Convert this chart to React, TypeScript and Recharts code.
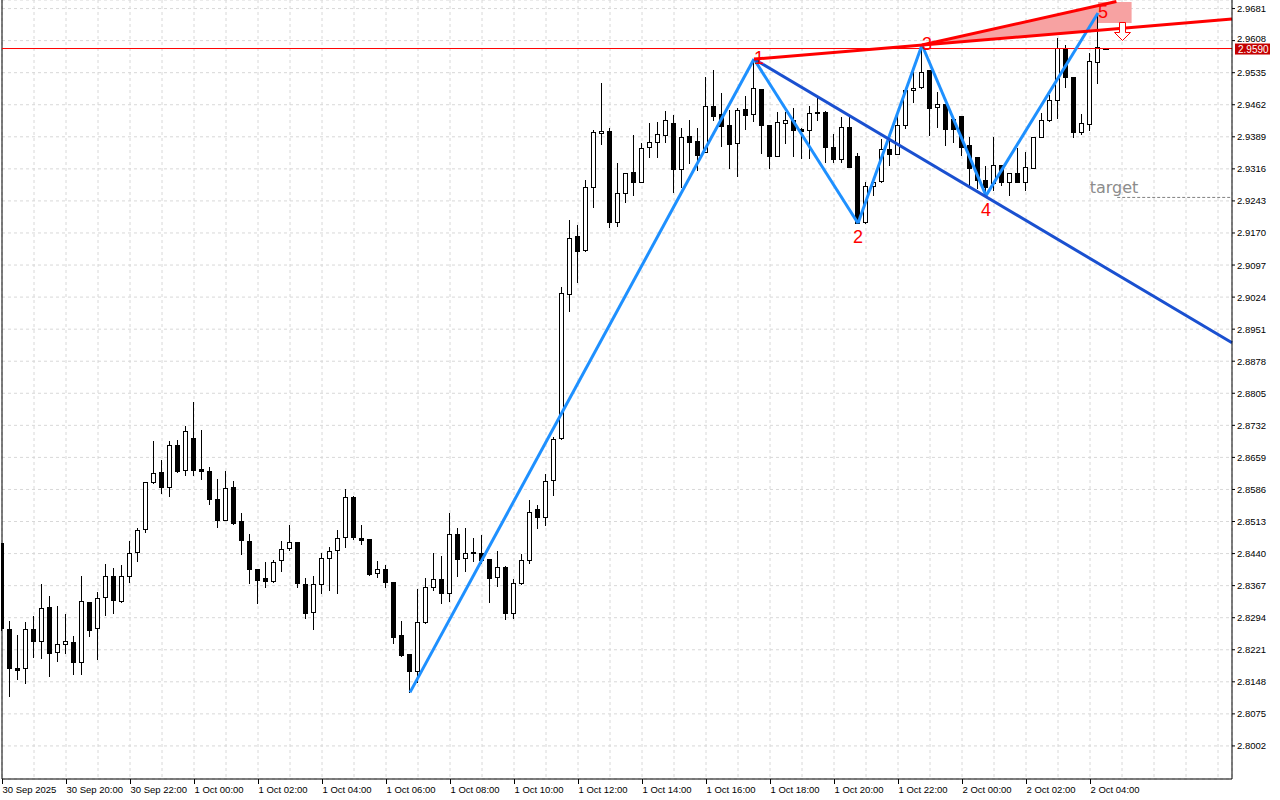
import {
  ComposedChart,
  Bar,
  Area,
  XAxis,
  YAxis,
  CartesianGrid,
  ReferenceLine,
  ReferenceArea,
  ReferenceDot,
} from "recharts"

// 15 minute bars, bar 0 = 30 Sep 18:00
const opens = [
  2.8464, 2.8268, 2.8179, 2.8179, 2.8268, 2.824, 2.8318, 2.8215, 2.8233, 2.8238,
  2.8192, 2.8329, 2.827, 2.834, 2.8388, 2.8333, 2.8388, 2.8443, 2.8495, 2.8602,
  2.8625, 2.8592, 2.8687, 2.863, 2.8703, 2.8632, 2.8628, 2.8564, 2.8516, 2.8592,
  2.8514, 2.8468, 2.8404, 2.8384, 2.8377, 2.8425, 2.8452, 2.8466, 2.837, 2.8306,
  2.837, 2.8429, 2.8448, 2.8477, 2.8568, 2.8475, 2.8473, 2.8395, 2.8406, 2.8375,
  2.8254, 2.8211, 2.8173, 2.8284, 2.8365, 2.8382, 2.835, 2.8484, 2.8429, 2.8443,
  2.8441, 2.8428, 2.8386, 2.8409, 2.8305, 2.8372, 2.8425, 2.8542, 2.8523, 2.8607,
  2.8703, 2.903, 2.9163, 2.9131, 2.9275, 2.9397, 2.9402, 2.9196, 2.926, 2.9309,
  2.9287, 2.9365, 2.9378, 2.9392, 2.942, 2.9315, 2.9391, 2.9379, 2.9354, 2.9459,
  2.944, 2.9416, 2.9374, 2.9452, 2.944, 2.9497, 2.9415, 2.9346, 2.942, 2.9427,
  2.9406, 2.9404, 2.9446, 2.9446, 2.9365, 2.9338, 2.9411, 2.9345, 2.9196, 2.9278,
  2.9288, 2.9361, 2.9349, 2.9415, 2.9496, 2.9502, 2.954, 2.9456, 2.9463, 2.943,
  2.9436, 2.937, 2.9344, 2.9291, 2.9284, 2.9325, 2.9287, 2.9306, 2.9287, 2.9317,
  2.9388, 2.9427, 2.9473, 2.9591, 2.9526, 2.9401, 2.9418, 2.9559, 2.959,
]
const highs = [
  2.8464, 2.8287, 2.8255, 2.8284, 2.8298, 2.8371, 2.8343, 2.8321, 2.8302, 2.8252,
  2.8389, 2.833, 2.8353, 2.8416, 2.8407, 2.8413, 2.8468, 2.8498, 2.8603, 2.8696,
  2.8653, 2.8696, 2.8699, 2.8731, 2.8785, 2.8721, 2.8636, 2.861, 2.8629, 2.8605,
  2.8532, 2.8485, 2.8404, 2.8421, 2.8425, 2.8469, 2.8505, 2.8466, 2.8384, 2.8389,
  2.8441, 2.8456, 2.8494, 2.8588, 2.8572, 2.8504, 2.8474, 2.8423, 2.8414, 2.8375,
  2.8287, 2.8211, 2.836, 2.8384, 2.8441, 2.8435, 2.8532, 2.8499, 2.8498, 2.8475,
  2.8482, 2.8428, 2.8446, 2.8412, 2.8382, 2.844, 2.8562, 2.8551, 2.8621, 2.8706,
  2.9048, 2.92, 2.9188, 2.9291, 2.9405, 2.9512, 2.9408, 2.9329, 2.9307, 2.9393,
  2.9374, 2.9421, 2.9423, 2.9448, 2.9439, 2.9408, 2.9427, 2.9408, 2.9526, 2.9541,
  2.9488, 2.945, 2.9455, 2.9482, 2.9566, 2.9498, 2.9416, 2.9446, 2.9446, 2.9454,
  2.9408, 2.9459, 2.948, 2.9447, 2.9395, 2.9433, 2.9435, 2.9351, 2.9287, 2.9291,
  2.9383, 2.9386, 2.9439, 2.9496, 2.9537, 2.9598, 2.9541, 2.9492, 2.9464, 2.9435,
  2.9436, 2.9389, 2.9344, 2.9323, 2.9389, 2.9325, 2.9306, 2.9363, 2.9355, 2.9388,
  2.9443, 2.9484, 2.9613, 2.9598, 2.9526, 2.944, 2.9579, 2.9671, 2.9591,
]
const lows = [
  2.8266, 2.8116, 2.8154, 2.8145, 2.8205, 2.8203, 2.8162, 2.8196, 2.8214, 2.8165,
  2.8165, 2.8253, 2.8199, 2.8299, 2.8304, 2.833, 2.8375, 2.8422, 2.8488, 2.86,
  2.8579, 2.8572, 2.8626, 2.862, 2.862, 2.8609, 2.8554, 2.8501, 2.8516, 2.8507,
  2.844, 2.8372, 2.8327, 2.8363, 2.8375, 2.8401, 2.8449, 2.8365, 2.8293, 2.8268,
  2.835, 2.8356, 2.835, 2.8456, 2.8473, 2.8461, 2.8391, 2.8387, 2.8365, 2.8236,
  2.8207, 2.8124, 2.8147, 2.8281, 2.8357, 2.8328, 2.8333, 2.839, 2.8401, 2.8422,
  2.8418, 2.833, 2.8367, 2.8292, 2.8294, 2.837, 2.8418, 2.8499, 2.8504, 2.8574,
  2.8701, 2.8993, 2.9059, 2.913, 2.923, 2.9372, 2.9184, 2.9187, 2.9241, 2.9257,
  2.9285, 2.9342, 2.9344, 2.9378, 2.9264, 2.9275, 2.9329, 2.9313, 2.9354, 2.9427,
  2.9369, 2.9319, 2.93, 2.9407, 2.9426, 2.9351, 2.9317, 2.9346, 2.9374, 2.9345,
  2.934, 2.934, 2.9427, 2.9332, 2.9332, 2.9332, 2.932, 2.9192, 2.9193, 2.9257,
  2.9287, 2.9325, 2.9349, 2.9408, 2.9469, 2.95, 2.9393, 2.9411, 2.937, 2.9378,
  2.9348, 2.9275, 2.9272, 2.9255, 2.9268, 2.9279, 2.9257, 2.9287, 2.9269, 2.9317,
  2.9388, 2.9426, 2.9431, 2.9503, 2.9389, 2.9395, 2.9404, 2.9511, 2.959,
]
const closes = [
  2.827, 2.818, 2.8176, 2.8268, 2.8242, 2.8315, 2.8214, 2.8233, 2.824, 2.8192,
  2.8331, 2.8267, 2.8338, 2.8388, 2.8334, 2.8388, 2.8441, 2.8493, 2.8602, 2.8623,
  2.8592, 2.8687, 2.8629, 2.8719, 2.863, 2.8627, 2.8564, 2.8516, 2.8589, 2.851,
  2.847, 2.8404, 2.8379, 2.8377, 2.842, 2.8451, 2.8466, 2.8372, 2.8304, 2.837,
  2.8429, 2.8446, 2.8475, 2.8568, 2.8477, 2.8472, 2.8394, 2.8406, 2.8375, 2.8251,
  2.821, 2.8173, 2.8284, 2.8365, 2.8381, 2.835, 2.8484, 2.8427, 2.8441, 2.8441,
  2.8425, 2.8385, 2.8409, 2.8304, 2.8373, 2.8425, 2.8534, 2.8524, 2.8605, 2.8701,
  2.9033, 2.9158, 2.913, 2.9274, 2.94, 2.9402, 2.9195, 2.926, 2.9306, 2.9287,
  2.9363, 2.9377, 2.9395, 2.9427, 2.9315, 2.9388, 2.9378, 2.9348, 2.9459, 2.9437,
  2.9414, 2.9373, 2.945, 2.9439, 2.9499, 2.9417, 2.9346, 2.9422, 2.9427, 2.9404,
  2.9402, 2.9443, 2.9443, 2.9365, 2.9338, 2.9411, 2.9321, 2.9193, 2.9278, 2.9287,
  2.9361, 2.9349, 2.9415, 2.9496, 2.9499, 2.9536, 2.9454, 2.9463, 2.9407, 2.9407,
  2.9366, 2.9317, 2.9291, 2.9275, 2.9325, 2.9287, 2.9306, 2.9287, 2.932, 2.9388,
  2.9427, 2.9473, 2.9591, 2.9526, 2.9401, 2.942, 2.9562, 2.9593, 2.959,
]

const timeTickBars = [0, 8, 16, 24, 32, 40, 48, 56, 64, 72, 80, 88, 96, 104, 112, 120, 128, 136]
const timeLabels = [
  "30 Sep 2025", "30 Sep 20:00", "30 Sep 22:00", "1 Oct 00:00", "1 Oct 02:00", "1 Oct 04:00",
  "1 Oct 06:00", "1 Oct 08:00", "1 Oct 10:00", "1 Oct 12:00", "1 Oct 14:00", "1 Oct 16:00",
  "1 Oct 18:00", "1 Oct 20:00", "1 Oct 22:00", "2 Oct 00:00", "2 Oct 02:00", "2 Oct 04:00",
]
const priceTicks = [
  2.8002, 2.8075, 2.8148, 2.8221, 2.8294, 2.8367, 2.844, 2.8513, 2.8586, 2.8659, 2.8732, 2.8805,
  2.8878, 2.8951, 2.9024, 2.9097, 2.917, 2.9243, 2.9316, 2.9389, 2.9462, 2.9535, 2.9608, 2.9681,
]

// wave points (bar index, price)
const waveBars = [51, 94, 107, 115, 123, 137]
const wavePrices = [2.8124, 2.9566, 2.9192, 2.9598, 2.9255, 2.9671]
const waveNames = ["", "1", "2", "3", "4", "5"]
const waveIsHigh = [false, true, false, true, false, true]

// 1-4 line and 1-3 line, to the right edge
const lineEnd = 153.75
const line14End = 2.892
const line13End = 2.9657
// 3-5 upper line of the wedge
const upperEndBar = 139.3
const upperEndPrice = 2.9697
const wedgeBars = [115, 137]
const wedgeLower = [2.9598, 2.9631]
const wedgeUpper = [2.9598, 2.9688]
const boxBars = [137, 141.2]
const boxPrices = [2.9648, 2.9696]

const bid = 2.959
const target = 2.9251
const targetStartBar = 139.4
const arrowBar = 140
const arrowTip = 2.9609

const gridBars: number[] = []
for (let b = 0; b <= 152; b += 4) gridBars.push(b)

const data = opens.map((o, i) => {
  const wi = wedgeBars.indexOf(i)
  return {
    i,
    open: o,
    high: highs[i],
    low: lows[i],
    close: closes[i],
    range: [lows[i], highs[i]],
    wedge: wi >= 0 ? [wedgeLower[wi], wedgeUpper[wi]] : null,
  }
})

const FONT = "'Liberation Sans', Arial, sans-serif"
const PLOT_LEFT = 2

function Candle(props: any) {
  const { x, y, width, height, payload } = props
  if (!payload) return null
  const { open, close, high, low } = payload
  const top = Math.min(y, y + height)
  const h = Math.abs(height)
  const py = (v: number) => (high === low ? top : top + ((high - v) / (high - low)) * h)
  const cx = Math.floor(x + width / 2) + 0.5
  const bTop = Math.round(py(Math.max(open, close))) + 0.5
  const bBot = Math.round(py(Math.min(open, close))) + 0.5
  const up = close >= open
  // the first bar sits on the left frame, cut it there
  const left = Math.max(cx - 2, PLOT_LEFT + 0.5)
  return (
    <g shapeRendering="crispEdges">
      <line x1={cx} x2={cx} y1={Math.round(top)} y2={Math.round(top + h) + 1} stroke="#000" />
      {bBot - bTop < 1 ? (
        <line x1={Math.max(cx - 3, PLOT_LEFT)} x2={cx + 3} y1={bTop} y2={bTop} stroke="#000" />
      ) : (
        <rect x={left} y={bTop} width={cx + 2 - left} height={bBot - bTop} fill={up ? "#fff" : "#000"} stroke="#000" />
      )}
    </g>
  )
}

function TimeTick(props: any) {
  const { x, y, payload } = props
  const k = timeTickBars.indexOf(payload.value)
  if (k < 0) return null
  const px = Math.floor(x) + 0.5
  return (
    <g>
      <line x1={px} x2={px} y1={y} y2={y + 5} stroke="#000" />
      <text x={px} y={y + 14} textAnchor="start" fontSize={9.5} fontFamily={FONT} fill="#000">
        {timeLabels[k]}
      </text>
    </g>
  )
}

function PriceTick(props: any) {
  const { x, y, payload } = props
  // the label right above the bid tag is lifted a little so the tag does not cover it
  const lift = Math.abs(payload.value - bid) < 0.003 ? -2.5 : 0
  return (
    <text x={x} y={y + lift} dy={3.5} textAnchor="start" fontSize={9.5} fontFamily={FONT} fill="#000">
      {Number(payload.value).toFixed(4)}
    </text>
  )
}

function BidTag(props: any) {
  const vb = props.viewBox
  if (!vb) return null
  const x0 = vb.x + vb.width
  return (
    <g>
      <rect x={x0 + 3} y={vb.y - 5} width={35} height={11} fill="#c40000" />
      <text x={x0 + 6} y={vb.y + 4} fontSize={10} fontFamily={FONT} fill="#fff">
        {bid.toFixed(4)}
      </text>
    </g>
  )
}

export default function App() {
  return (
    <div style={{ position: "absolute", left: 0, top: 0, width: 1280, height: 800, background: "#fff" }}>
      <ComposedChart width={1280} height={800} data={data} margin={{ top: 0, right: 0, bottom: 0, left: PLOT_LEFT }}>
        <CartesianGrid stroke="#d8d8d8" strokeDasharray="3 3" />
        <XAxis
          dataKey="i"
          type="number"
          domain={[0, lineEnd]}
          ticks={gridBars}
          interval={0}
          height={21}
          tickSize={0}
          tickMargin={0}
          tickLine={false}
          axisLine={{ stroke: "#000" }}
          tick={<TimeTick />}
        />
        <YAxis
          orientation="right"
          type="number"
          domain={[2.79267, 2.97005]}
          ticks={priceTicks}
          interval={0}
          width={48}
          tickSize={3}
          tickMargin={2}
          axisLine={{ stroke: "#000" }}
          tickLine={{ stroke: "#000" }}
          tick={<PriceTick />}
        />
        <Bar dataKey="range" barSize={7} shape={<Candle />} isAnimationActive={false} />
        <Area
          dataKey="wedge"
          type="linear"
          stroke="none"
          fill="#f7a2a2"
          fillOpacity={1}
          connectNulls
          dot={false}
          activeDot={false}
          isAnimationActive={false}
        />
        <ReferenceArea
          x1={boxBars[0]}
          x2={boxBars[1]}
          y1={boxPrices[0]}
          y2={boxPrices[1]}
          fill="#f7a2a2"
          fillOpacity={1}
          stroke="none"
          ifOverflow="visible"
        />
        <ReferenceLine x={0} stroke="#000" />
        <ReferenceLine y={bid} stroke="#ff0000" label={<BidTag />} ifOverflow="visible" />
        {waveBars.slice(1).map((b, k) => (
          <ReferenceLine
            key={"w" + k}
            segment={[
              { x: waveBars[k], y: wavePrices[k] },
              { x: b, y: wavePrices[k + 1] },
            ]}
            stroke="#1e90ff"
            strokeWidth={3}
            ifOverflow="visible"
          />
        ))}
        <ReferenceLine
          segment={[
            { x: waveBars[1], y: wavePrices[1] },
            { x: lineEnd, y: line14End },
          ]}
          stroke="#1a50d0"
          strokeWidth={3}
          ifOverflow="visible"
        />
        <ReferenceLine
          segment={[
            { x: waveBars[1], y: wavePrices[1] },
            { x: lineEnd, y: line13End },
          ]}
          stroke="#ff0000"
          strokeWidth={3}
          ifOverflow="visible"
        />
        <ReferenceLine
          segment={[
            { x: waveBars[3], y: wavePrices[3] },
            { x: upperEndBar, y: upperEndPrice },
          ]}
          stroke="#ff0000"
          strokeWidth={3}
          ifOverflow="visible"
        />
        <ReferenceLine
          segment={[
            { x: targetStartBar, y: target },
            { x: lineEnd, y: target },
          ]}
          stroke="#808080"
          strokeDasharray="3 2"
          ifOverflow="visible"
        />
        <ReferenceDot
          x={139}
          y={target}
          r={0}
          ifOverflow="visible"
          shape={(p: any) => (
            <text x={p.cx} y={p.cy - 4} textAnchor="middle" fontSize={16} fontFamily="'DejaVu Sans', sans-serif" fill="#8c8c8c">
              target
            </text>
          )}
        />
        <ReferenceDot
          x={arrowBar}
          y={arrowTip}
          r={0}
          ifOverflow="visible"
          shape={(p: any) => {
            const cx = Math.round(p.cx) + 0.5
            const cy = Math.round(p.cy) + 0.5
            return (
              <path
                d={`M${cx},${cy} L${cx - 8},${cy - 8} L${cx - 3},${cy - 8} L${cx - 3},${cy - 18} L${cx + 3},${cy - 18} L${cx + 3},${cy - 8} L${cx + 8},${cy - 8} Z`}
                fill="#fff"
                stroke="#ff0000"
                strokeWidth={1}
              />
            )
          }}
        />
        {waveBars.map((b, k) =>
          waveNames[k] ? (
            <ReferenceDot
              key={"n" + k}
              x={b}
              y={wavePrices[k]}
              r={0}
              ifOverflow="visible"
              shape={(p: any) => (
                <text
                  x={p.cx + (waveIsHigh[k] ? 5 : 0)}
                  y={p.cy + (waveIsHigh[k] ? -1 : 14)}
                  textAnchor="middle"
                  dominantBaseline="central"
                  fontSize={18}
                  fontFamily={FONT}
                  fill="#ff0000"
                >
                  {waveNames[k]}
                </text>
              )}
            />
          ) : null
        )}
      </ComposedChart>
    </div>
  )
}
